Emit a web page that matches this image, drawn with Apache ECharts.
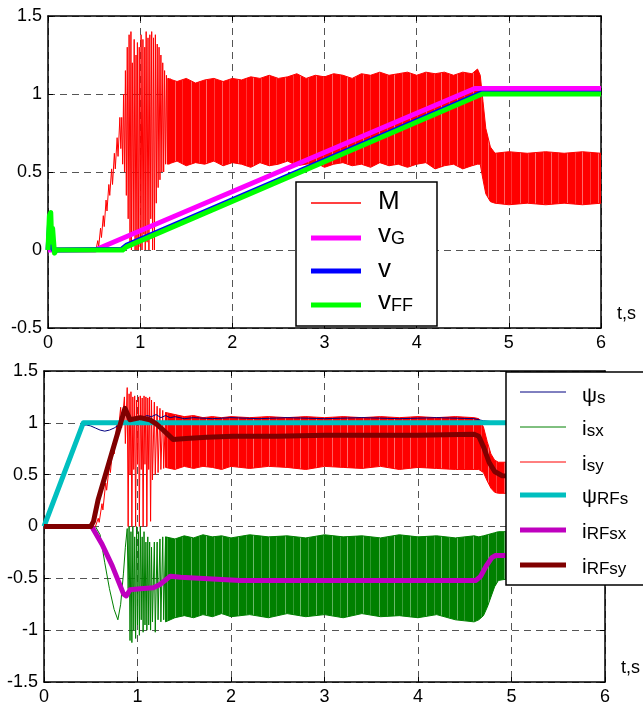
<!DOCTYPE html>
<html><head><meta charset="utf-8">
<script src="https://cdn.jsdelivr.net/npm/echarts@6/dist/echarts.min.js"></script>
<style>html,body{margin:0;padding:0;background:#fff}#c{width:643px;height:709px}</style>
</head><body><div id="c"></div>
<script>
// ---------- axis ticks ----------
const xTicks = [0, 1, 2, 3, 4, 5, 6];
const yTicksTop = [-0.5, 0, 0.5, 1, 1.5];
const yTicksBottom = [-1.5, -1, -0.5, 0, 0.5, 1, 1.5];

// ---------- top plot: [t, value] ----------
const M_start = [[0,0],[0.52,0],[0.54,0.06],[0.55,0.02],[0.57,0.14],[0.58,0.08],[0.6,0.22],[0.61,0.15],[0.63,0.32],[0.64,0.25],[0.66,0.42],[0.67,0.35],[0.69,0.52],[0.7,0.42],[0.72,0.62],[0.73,0.52],[0.75,0.72],[0.76,0.6],[0.78,0.85],[0.79,0.65],
  [0.80,0.85],[0.81,0.55],[0.82,1.0],[0.83,0.5],[0.84,1.15],[0.85,0.35],[0.86,1.3],[0.87,0.2],[0.88,1.38],[0.89,0.05],[0.9,1.4],[0.905,0.0],[0.915,1.2],[0.925,0.1],[0.935,1.35],[0.945,0.0],[0.955,1.25],[0.965,0.0],[0.97,1.33],[0.98,0.0],[0.99,1.3],[1.0,0.02],[1.01,1.38],[1.02,0.0],[1.03,1.35],[1.04,0.1],[1.05,1.3],[1.055,0.0],[1.065,1.4],[1.075,0.05],[1.085,1.36],[1.095,0.0],[1.105,1.38],[1.115,0.2],[1.125,1.4],[1.135,0.0],[1.145,1.36],[1.155,0.0],[1.165,1.38],[1.175,0.3],[1.185,1.32],[1.195,0.4],[1.205,1.3],[1.215,0.45],[1.225,1.25],[1.235,0.5],[1.245,1.2],[1.255,0.5],[1.265,1.15],[1.275,0.55],[1.285,1.12],[1.295,0.55],[1.305,1.1],[1.315,0.55],[1.325,1.1]];
const M_band_t  = [1.3,1.4,1.5,1.6,1.7,1.8,1.9,2.0,2.1,2.2,2.3,2.4,2.5,2.6,2.7,2.8,2.9,3.0,3.1,3.2,3.3,3.4,3.5,3.6,3.7,3.8,3.9,4.0,4.1,4.2,4.3,4.4,4.5,4.6,4.66,4.69,4.72,4.75,4.8,4.85,5.0,5.2,5.4,5.6,5.8,6.0];
const M_band_hi = [1.1,1.08,1.1,1.07,1.09,1.1,1.08,1.1,1.09,1.11,1.1,1.12,1.1,1.11,1.13,1.1,1.12,1.11,1.13,1.12,1.1,1.13,1.12,1.14,1.12,1.13,1.14,1.12,1.14,1.13,1.14,1.12,1.14,1.13,1.16,1.12,0.95,0.78,0.66,0.62,0.63,0.62,0.63,0.62,0.63,0.62];
const M_band_lo = [0.55,0.57,0.54,0.56,0.55,0.57,0.54,0.56,0.55,0.53,0.56,0.54,0.55,0.57,0.54,0.55,0.56,0.53,0.55,0.56,0.54,0.55,0.53,0.56,0.54,0.55,0.53,0.55,0.56,0.52,0.54,0.55,0.52,0.54,0.55,0.55,0.45,0.36,0.31,0.3,0.29,0.3,0.29,0.3,0.29,0.3];
const vG  = [[0,0],[0.51,0],[4.63,1.035],[6,1.035]];
const v   = [[0,0],[0.02,0.2],[0.04,0.05],[0.06,0],[0.8,0.005],[0.85,0.03],[4.69,1.005],[6,1.005]];
const vFF = [[0,0],[0.01,0.0],[0.015,0.22],[0.03,0.24],[0.04,0.05],[0.05,0.14],[0.07,-0.02],[0.09,0.0],[0.81,0.0],[0.85,0.02],[4.71,1.0],[6,1.0]];

// ---------- bottom plot: [t, value] ----------
const psi_s = [[0,0],[0.4,0.97],[0.45,0.98],[0.5,0.97],[0.55,0.95],[0.6,0.93],[0.65,0.92],[0.7,0.93],[0.75,0.95],[0.8,0.98],[0.85,1.0],[0.9,1.02],[0.95,1.03],[1.0,1.02],[1.05,1.05],[1.1,1.07],[1.15,1.06],[1.2,1.08],[1.25,1.05],[1.3,1.07],[1.35,1.05],[1.4,1.06],[1.5,1.04],[1.6,1.05],[1.8,1.04],[2.0,1.05],[2.3,1.04],[2.6,1.05],[3.0,1.04],[3.4,1.05],[3.8,1.04],[4.2,1.05],[4.6,1.04],[4.7,1.02],[4.8,1.01],[6,1.01]];
const isx_start = [[0,0],[0.55,0],[0.6,-0.08],[0.65,-0.35],[0.7,-0.6],[0.75,-0.8],[0.79,-0.9],[0.82,-0.75],[0.85,-0.45],[0.87,-0.2],[0.89,-0.02],[0.9,-0.6],[0.91,0.0],[0.92,-1.1],[0.93,-0.05],[0.94,-1.12],[0.95,0.0],[0.96,-1.0],[0.97,-0.1],[0.98,-1.08],[0.99,0.0],[1.0,-0.95],[1.01,-0.05],[1.02,-1.05],[1.03,0.0],[1.04,-0.9],[1.05,-0.1],[1.06,-1.02],[1.07,-0.05],[1.08,-0.95],[1.09,-0.15],[1.1,-1.0],[1.11,-0.1],[1.12,-0.95],[1.13,-0.15],[1.14,-1.0],[1.15,-0.2],[1.16,-0.92],[1.18,-0.15],[1.19,-1.02],[1.21,-0.15],[1.22,-0.9],[1.24,-0.12],[1.25,-0.92],[1.27,-0.1],[1.28,-0.9],[1.3,-0.1]];
const isy_start = [[0,0],[0.55,0],[0.58,0.08],[0.59,0.04],[0.62,0.22],[0.63,0.16],[0.66,0.42],[0.67,0.35],[0.7,0.6],[0.71,0.52],[0.74,0.8],[0.75,0.7],[0.78,1.0],[0.79,0.88],[0.82,1.15],[0.83,0.95],[0.86,1.25],[0.87,0.8],[0.89,1.34],[0.9,0.0],[0.91,1.28],[0.92,0.5],[0.93,1.3],[0.94,0.0],[0.95,1.25],[0.96,0.55],[0.97,1.26],[0.98,0.0],[0.99,1.22],[1.0,0.6],[1.01,1.25],[1.02,0.0],[1.03,1.26],[1.04,0.55],[1.05,1.24],[1.06,0.0],[1.07,1.26],[1.08,0.6],[1.09,1.25],[1.1,0.0],[1.11,1.24],[1.12,0.55],[1.13,1.25],[1.14,0.05],[1.15,1.22],[1.16,0.45],[1.18,1.2],[1.19,0.5],[1.21,1.16],[1.22,0.52],[1.24,1.14],[1.25,0.55],[1.27,1.12],[1.28,0.56],[1.3,1.1]];
const B_band_t = [1.3,1.4,1.5,1.6,1.7,1.8,1.9,2.0,2.2,2.4,2.6,2.8,3.0,3.2,3.4,3.6,3.8,4.0,4.2,4.4,4.6,4.65,4.7,4.74,4.78,4.82,4.86,5.0,6.0];
const isy_hi = [1.1,1.08,1.06,1.07,1.05,1.06,1.05,1.06,1.05,1.06,1.05,1.06,1.05,1.06,1.05,1.06,1.05,1.06,1.05,1.06,1.05,1.04,0.96,0.82,0.7,0.64,0.62,0.62,0.62];
const isy_lo = [0.57,0.55,0.58,0.56,0.58,0.57,0.55,0.58,0.56,0.58,0.57,0.55,0.58,0.57,0.56,0.58,0.55,0.57,0.56,0.55,0.55,0.55,0.52,0.44,0.37,0.33,0.32,0.32,0.32];
const isx_hi = [-0.1,-0.12,-0.09,-0.11,-0.08,-0.1,-0.09,-0.11,-0.08,-0.1,-0.09,-0.11,-0.08,-0.1,-0.09,-0.11,-0.08,-0.1,-0.09,-0.11,-0.09,-0.1,-0.09,-0.08,-0.07,-0.06,-0.05,-0.05,-0.05];
const isx_lo = [-0.92,-0.88,-0.86,-0.88,-0.85,-0.87,-0.84,-0.87,-0.85,-0.88,-0.84,-0.87,-0.85,-0.88,-0.84,-0.87,-0.86,-0.88,-0.85,-0.9,-0.92,-0.9,-0.86,-0.78,-0.68,-0.58,-0.52,-0.5,-0.5];
const psi_RFs = [[0,0],[0.42,1.0],[6,1.0]];
const i_RFsx = [[0,0],[0.51,0],[0.62,-0.17],[0.73,-0.38],[0.85,-0.65],[0.88,-0.67],[0.92,-0.61],[1.03,-0.6],[1.17,-0.59],[1.24,-0.56],[1.35,-0.48],[1.46,-0.49],[2.1,-0.52],[3.0,-0.52],[4.0,-0.52],[4.62,-0.52],[4.67,-0.48],[4.73,-0.38],[4.79,-0.3],[4.83,-0.28],[6,-0.28]];
const i_RFsy = [[0,0],[0.5,0],[0.53,0.05],[0.578,0.256],[0.866,1.14],[0.92,1.03],[1.03,1.05],[1.13,1.03],[1.2,0.99],[1.276,0.93],[1.38,0.84],[1.52,0.85],[1.74,0.86],[2.02,0.87],[2.5,0.87],[3.0,0.88],[3.5,0.88],[4.0,0.88],[4.6,0.89],[4.65,0.87],[4.7,0.77],[4.76,0.62],[4.82,0.53],[4.9,0.49],[6,0.48]];

// ---------- layout ----------
const FONT = 'Liberation Sans, Arial, Helvetica, sans-serif';
const G1 = {left: 48, top: 16, width: 553, height: 312};
const G2 = {left: 44, top: 371, width: 561, height: 311};

// streaked fill imitating dense oscillation
function streaks(base, streak) {
  const c = document.createElement('canvas');
  c.width = 47; c.height = 8;
  const ctx = c.getContext('2d');
  ctx.fillStyle = base; ctx.fillRect(0, 0, 47, 8);
  [[3,0.4],[11,0.22],[18,0.45],[26,0.25],[34,0.4],[41,0.2]].forEach(p => {
    ctx.fillStyle = 'rgba(' + streak + ',' + p[1] + ')';
    ctx.fillRect(p[0], 0, 1, 8);
  });
  return c;
}
const redFill = streaks('#ff0000', '255,240,240');
const greenFill = streaks('#008000', '240,255,240');

const chart = echarts.init(document.getElementById('c'), null, {renderer: 'canvas'});

function xAx(gi, show) {
  return {
    type: 'value', gridIndex: gi, min: 0, max: 6, interval: 1,
    position: show ? 'bottom' : 'top',
    axisLine: {show: true, onZero: false, lineStyle: {color: '#000', width: 1.5}},
    axisTick: {show: true, inside: true, length: 5, lineStyle: {color: '#000'}},
    axisLabel: {show: show, color: '#000', fontSize: 18, fontFamily: FONT, margin: 6},
    splitLine: {show: show, lineStyle: {color: '#555', type: [7, 5], width: 1}},
    name: show ? 't,s' : '', nameLocation: 'end', nameGap: 16,
    nameTextStyle: {color: '#000', fontSize: 18, fontFamily: FONT, verticalAlign: 'bottom', align: 'left', padding: [0, 0, 5, 0]}
  };
}
function yAx(gi, min, max, show) {
  return {
    type: 'value', gridIndex: gi, min: min, max: max, interval: 0.5,
    position: show ? 'left' : 'right',
    axisLine: {show: true, onZero: false, lineStyle: {color: '#000', width: 1.5}},
    axisTick: {show: true, inside: true, length: 5, lineStyle: {color: '#000'}},
    axisLabel: {show: show, color: '#000', fontSize: 18, fontFamily: FONT, margin: 6},
    splitLine: {show: show, lineStyle: {color: '#555', type: [7, 5], width: 1}}
  };
}

function line(data, color, width, axis) {
  return {type: 'line', data: data, xAxisIndex: axis, yAxisIndex: axis, symbol: 'none', animation: false,
          lineStyle: {color: color, width: width, join: 'round'}, clip: true, silent: true};
}
function band(t, hi, lo, color, pattern, axis) {
  return {
    type: 'custom', xAxisIndex: axis, yAxisIndex: axis, animation: false, silent: true, clip: true,
    data: t.map((x, i) => [x, hi[i], lo[i]]),
    encode: {x: 0, y: [1, 2]},
    renderItem: function (params, api) {
      if (params.dataIndex !== 0) return null;
      const pts = [];
      for (let i = 0; i < t.length; i++) pts.push(api.coord([t[i], hi[i]]));
      for (let i = t.length - 1; i >= 0; i--) pts.push(api.coord([t[i], lo[i]]));
      return {type: 'polygon', shape: {points: pts},
              style: {fill: {image: pattern, repeat: 'repeat'}, stroke: color, lineWidth: 1}};
    }
  };
}

// ---------- legends (graphic) ----------
function legendBox(x, y, w, h, items, lineX1, lineX2, textX, mainSize, subSize, subDrop) {
  const els = [{type: 'rect', z: 100, shape: {x: x, y: y, width: w, height: h}, style: {fill: '#fff', stroke: '#000', lineWidth: 1.5}}];
  items.forEach(it => {
    els.push({type: 'line', z: 101, shape: {x1: lineX1, y1: it.y, x2: lineX2, y2: it.y}, style: {stroke: it.color, lineWidth: it.w}});
    els.push({type: 'text', z: 101, x: textX, y: it.y + it.dy, style: {
      text: '{m|' + it.main + '}' + (it.sub ? '{s|' + it.sub + '}' : ''),
      verticalAlign: 'middle',
      rich: {
        m: {fontSize: mainSize, fontFamily: FONT, fill: '#000', lineHeight: mainSize, verticalAlign: 'top'},
        s: {fontSize: subSize, fontFamily: FONT, fill: '#000', lineHeight: subSize, padding: [subDrop, 0, 0, 0], verticalAlign: 'bottom'}
      }
    }});
  });
  return {type: 'group', z: 100, children: els};
}

const topLegend = legendBox(296, 182, 141, 144, [
  {y: 203, color: '#ff0000', w: 1.5, main: 'M', sub: '', dy: -1},
  {y: 238, color: '#ff00ff', w: 5, main: 'v', sub: 'G', dy: -3},
  {y: 271, color: '#0000ff', w: 5, main: 'v', sub: '', dy: -1},
  {y: 305, color: '#00ff00', w: 5, main: 'v', sub: 'FF', dy: -3}
], 311, 361, 378, 26, 18, 19);

const botLegend = legendBox(506, 372, 150, 213, [
  {y: 392, color: '#000080', w: 1, main: 'ψ', sub: 's', dy: 4},
  {y: 427, color: '#008000', w: 1, main: 'i', sub: 'sx', dy: 2},
  {y: 462, color: '#ff0000', w: 1, main: 'i', sub: 'sy', dy: 2},
  {y: 495, color: '#00bfbf', w: 5, main: 'ψ', sub: 'RFs', dy: 2},
  {y: 530, color: '#bf00bf', w: 5, main: 'i', sub: 'RFsx', dy: 2},
  {y: 565, color: '#800000', w: 5, main: 'i', sub: 'RFsy', dy: 2}
], 520, 566, 582, 21, 17, 12);

chart.setOption({
  backgroundColor: '#fff',
  animation: false,
  grid: [
    Object.assign({containLabel: false, show: false}, G1),
    Object.assign({containLabel: false, show: false}, G2)
  ],
  xAxis: [xAx(0, true), xAx(1, true), xAx(0, false), xAx(1, false)],
  yAxis: [yAx(0, -0.5, 1.5, true), yAx(1, -1.5, 1.5, true), yAx(0, -0.5, 1.5, false), yAx(1, -1.5, 1.5, false)],
  series: [
    // top
    line(M_start, '#ff0000', 1, 0),
    band(M_band_t, M_band_hi, M_band_lo, '#ff0000', redFill, 0),
    line(vG, '#ff00ff', 5, 0),
    line(v, '#0000ff', 5, 0),
    line(vFF, '#00ff00', 5, 0),
    // bottom
    line(isx_start, '#008000', 1, 1),
    band(B_band_t, isx_hi, isx_lo, '#008000', greenFill, 1),
    line(isy_start, '#ff0000', 1, 1),
    band(B_band_t, isy_hi, isy_lo, '#ff0000', redFill, 1),
    line(psi_s, '#000080', 1, 1),
    line(psi_RFs, '#00bfbf', 5, 1),
    line(i_RFsx, '#bf00bf', 5, 1),
    line(i_RFsy, '#800000', 5, 1)
  ],
  graphic: [topLegend, botLegend]
});
</script></body></html>
